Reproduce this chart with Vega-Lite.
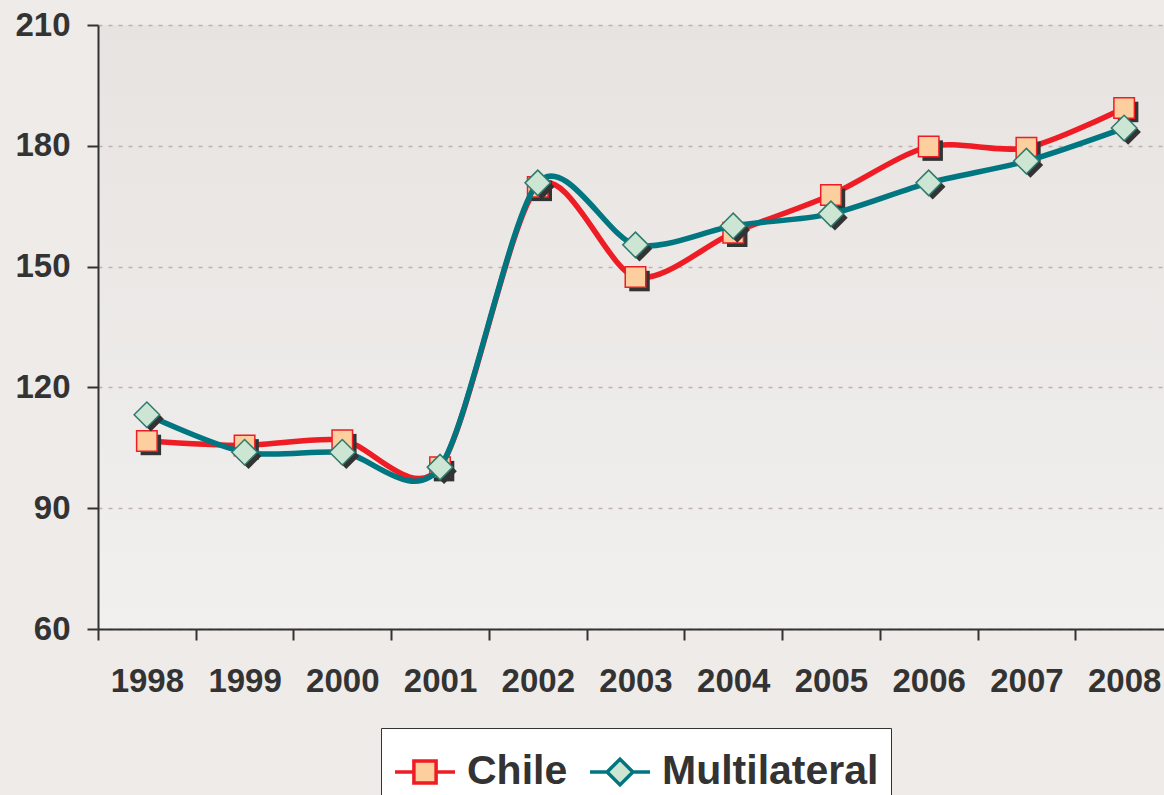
{
  "$schema": "https://vega.github.io/schema/vega-lite/v6.json",
  "width": 1075,
  "height": 604,
  "autosize": "none",
  "padding": {"left": 98, "top": 25, "right": 0, "bottom": 166},
  "background": "#EEEBE9",
  "config": {
    "view": {"stroke": null, "fill": {"gradient": "linear", "x1": 0, "y1": 0, "x2": 0, "y2": 1, "stops": [{"offset": 0, "color": "#E7E3E0"}, {"offset": 1, "color": "#F1F0EF"}]}},
    "legend": {"layout": {"bottom": {"anchor": "middle"}}}
  },
  "data": {"values": [
    {"year": "1998", "series": "Chile", "value": 106.7},
    {"year": "1999", "series": "Chile", "value": 105.6},
    {"year": "2000", "series": "Chile", "value": 106.9},
    {"year": "2001", "series": "Chile", "value": 100.2},
    {"year": "2002", "series": "Chile", "value": 169.8},
    {"year": "2003", "series": "Chile", "value": 147.4},
    {"year": "2004", "series": "Chile", "value": 158.4},
    {"year": "2005", "series": "Chile", "value": 167.8},
    {"year": "2006", "series": "Chile", "value": 179.8},
    {"year": "2007", "series": "Chile", "value": 179.5},
    {"year": "2008", "series": "Chile", "value": 189.4},
    {"year": "1998", "series": "Multilateral", "value": 113.2},
    {"year": "1999", "series": "Multilateral", "value": 103.9},
    {"year": "2000", "series": "Multilateral", "value": 103.9},
    {"year": "2001", "series": "Multilateral", "value": 100.2},
    {"year": "2002", "series": "Multilateral", "value": 170.8},
    {"year": "2003", "series": "Multilateral", "value": 155.4},
    {"year": "2004", "series": "Multilateral", "value": 160.1},
    {"year": "2005", "series": "Multilateral", "value": 163.1},
    {"year": "2006", "series": "Multilateral", "value": 170.8},
    {"year": "2007", "series": "Multilateral", "value": 176.2},
    {"year": "2008", "series": "Multilateral", "value": 184.4}
  ]},
  "encoding": {
    "x": {
      "field": "year", "type": "nominal",
      "scale": {"paddingInner": 0, "paddingOuter": 0},
      "axis": {
        "title": null, "labelAngle": 0, "tickBand": "extent", "grid": false,
        "domainColor": "#333333", "domainWidth": 2, "tickColor": "#333333", "tickWidth": 2, "tickSize": 11,
        "labelFont": "Liberation Sans", "labelFontWeight": "bold", "labelFontSize": 33, "labelColor": "#333333",
        "labelPadding": 25
      }
    },
    "y": {
      "field": "value", "type": "quantitative",
      "scale": {"domain": [60, 210], "nice": false, "zero": false},
      "axis": {
        "title": null, "values": [60, 90, 120, 150, 180, 210],
        "grid": true, "gridDash": [4, 6], "gridColor": "#BDB2B0", "gridWidth": 1.5,
        "domainColor": "#333333", "domainWidth": 2, "tickColor": "#333333", "tickWidth": 2, "tickSize": 11,
        "labelFont": "Liberation Sans", "labelFontWeight": "bold", "labelFontSize": 33, "labelColor": "#333333",
        "labelPadding": 17
      }
    }
  },
  "layer": [
    {
      "transform": [{"filter": "datum.series === 'Chile'"}],
      "mark": {"type": "line", "interpolate": "cardinal", "tension": 0.15, "strokeWidth": 5.5},
      "encoding": {
        "color": {
          "field": "series", "type": "nominal",
          "scale": {"domain": ["Chile", "Multilateral"], "range": ["#EE1D25", "#007680"]},
          "legend": {
            "title": null, "orient": "bottom", "direction": "horizontal",
            "symbolSize": 3600, "symbolStrokeWidth": 4, "labelLimit": 0,
            "labelFont": "Liberation Sans", "labelFontWeight": "bold", "labelFontSize": 41, "labelColor": "#333333",
            "strokeColor": "#333333", "fillColor": "#FFFFFF", "padding": 12, "columnPadding": 15, "labelOffset": 10, "offset": 30,
            "encode": {"symbols": {"update": {
              "shape": {"signal": "datum.value === 'Chile' ? 'M-1,0H-0.37M0.37,0H1M-0.37,-0.37H0.37V0.37H-0.37Z' : 'M-1,0H-0.43M0.43,0H1M-0.43,0L0,-0.43L0.43,0L0,0.43Z'"},
              "fill": {"signal": "datum.value === 'Chile' ? '#FDCF9E' : '#CDE6D4'"},
              "strokeWidth": {"value": 3.5},
              "opacity": {"value": 1}
            }}}
          }
        }
      }
    },
    {
      "transform": [{"filter": "datum.series === 'Chile'"}],
      "mark": {"type": "point", "shape": "square", "size": 420, "filled": true, "fill": "#333333", "strokeWidth": 0, "opacity": 1, "xOffset": 4, "yOffset": 4}
    },
    {
      "transform": [{"filter": "datum.series === 'Chile'"}],
      "mark": {"type": "point", "shape": "square", "size": 420, "filled": true, "fill": "#FDCF9E", "stroke": "#EE1D25", "strokeWidth": 1.5, "opacity": 1}
    },
    {
      "transform": [{"filter": "datum.series === 'Multilateral'"}],
      "mark": {"type": "line", "interpolate": "cardinal", "tension": 0.15, "strokeWidth": 5.5},
      "encoding": {"color": {"field": "series", "type": "nominal"}}
    },
    {
      "transform": [{"filter": "datum.series === 'Multilateral'"}],
      "mark": {"type": "point", "shape": "diamond", "size": 650, "filled": true, "fill": "#333333", "strokeWidth": 0, "opacity": 1, "xOffset": 4, "yOffset": 4}
    },
    {
      "transform": [{"filter": "datum.series === 'Multilateral'"}],
      "mark": {"type": "point", "shape": "diamond", "size": 650, "filled": true, "fill": "#CDE6D4", "stroke": "#2E7B6E", "strokeWidth": 1.5, "opacity": 1}
    }
  ]
}
